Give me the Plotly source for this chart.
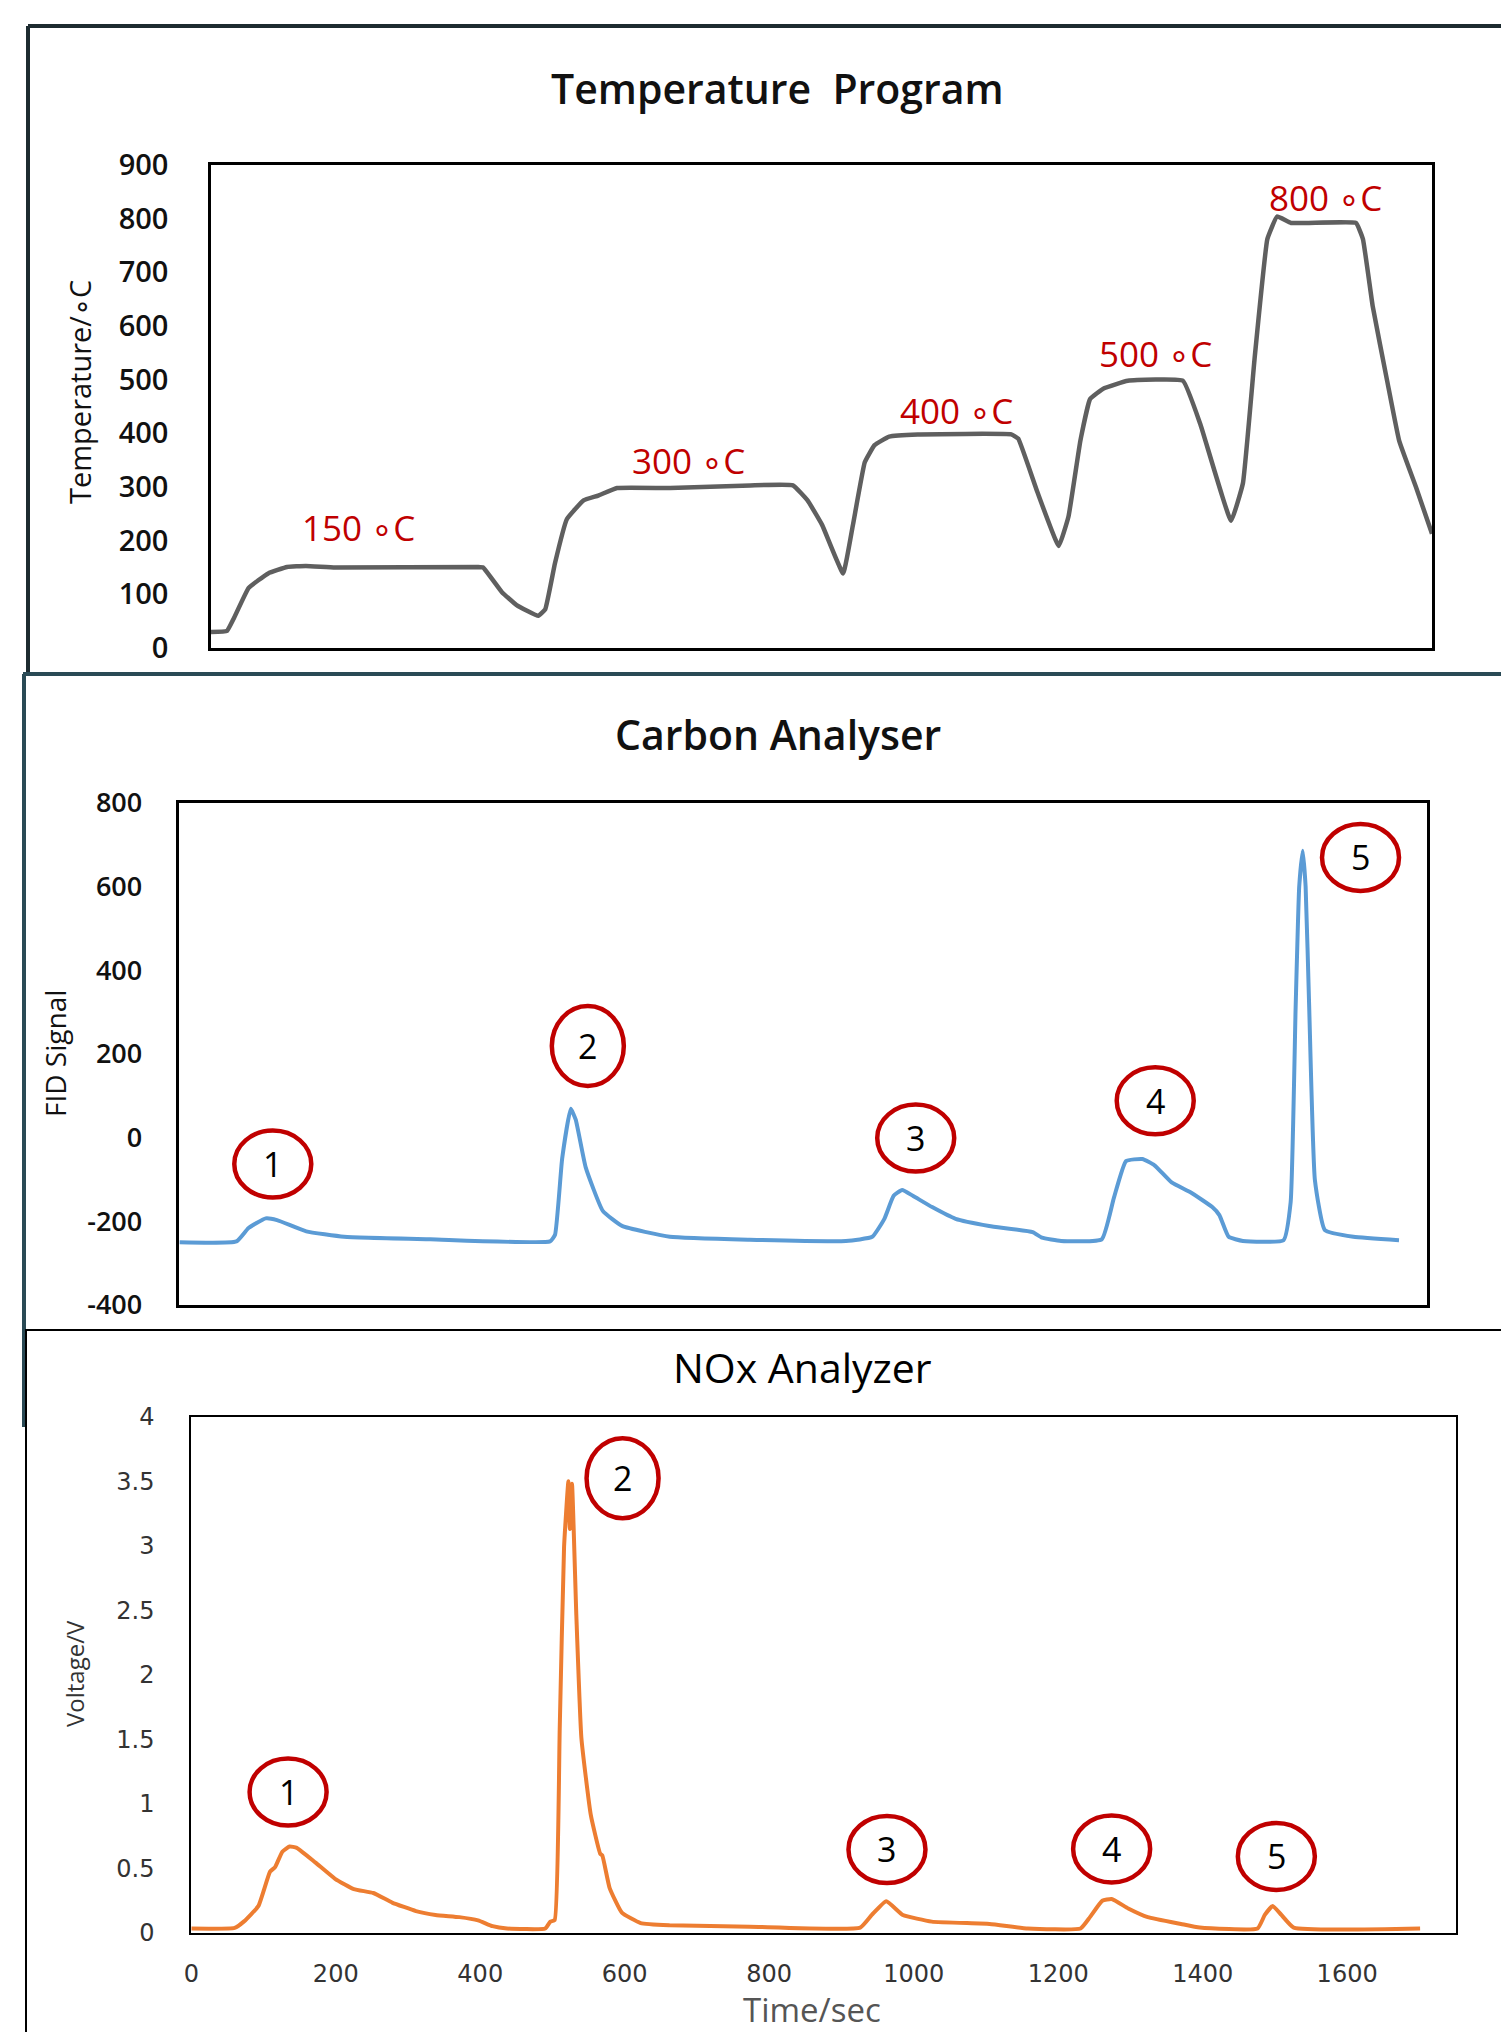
import plotly.graph_objects as go

# ---------------- data ----------------
# Temperature program (time in s, temperature in °C)
temp_time = [0, 23, 33, 54, 82, 109, 136, 178, 383, 390, 417, 438, 469, 479, 493, 510, 534, 555, 582,
             658, 773, 834, 855, 876, 906, 920, 937, 951, 972, 1013, 1147, 1157, 1184, 1215, 1229, 1246,
             1260, 1280, 1314, 1393, 1418, 1462, 1479, 1496, 1514, 1528, 1548, 1641, 1651, 1665, 1686,
             1703, 1727, 1750]
temp_vals = [30, 32, 56, 112, 139, 151, 153, 150, 151, 150, 104, 80, 60, 72, 158, 240, 275, 284, 298,
             298, 303, 303, 275, 229, 139, 229, 346, 378, 394, 398, 398, 390, 292, 190, 245, 386,
             464, 484, 498, 498, 417, 237, 307, 543, 762, 804, 792, 792, 762, 637, 496,
             386, 300, 213]
temp_labels = ["150 ∘C", "300 ∘C", "400 ∘C", "500 ∘C", "800 ∘C"]
temp_label_t = [212, 685, 1068, 1354, 1598]
temp_label_v = [225, 350, 443, 548, 840]

# Carbon analyser FID signal
fid_time = [0, 80, 97, 121, 137, 178, 231, 352, 520, 527, 537, 549, 556, 570, 594, 621, 688, 800,
            935, 972, 989, 1002, 1014, 1029, 1056, 1089, 1136, 1197, 1210, 1237, 1294, 1311, 1328,
            1351, 1368, 1392, 1419, 1449, 1459, 1472, 1492, 1549, 1559, 1566, 1571, 1576, 1580,
            1585, 1593, 1607, 1647, 1711]
fid_vals = [-250, -248, -216, -193, -197, -224, -237, -243, -248, -232, -50, 69, 43, -71, -175, -211,
            -237, -244, -247, -237, -194, -139, -125, -139, -166, -194, -211, -226, -239, -247, -243,
            -144, -56, -51, -66, -107, -131, -166, -185, -237, -247, -245, -154, 312, 600, 686, 600,
            312, -101, -221, -237, -245]
fid_peak_t = [131, 573, 1033, 1369, 1657]
fid_peak_v = [-63, 219, -1, 88, 670]

# NOx analyzer voltage
nox_time = [0, 60, 73, 93, 109, 116, 126, 136, 146, 172, 199, 225, 252, 278, 311, 338, 371, 397, 417,
            437, 490, 497, 503, 510, 516, 522, 524, 527, 533, 540, 553, 566, 569, 579, 596, 622, 662,
            773, 926, 942, 962, 985, 1025, 1105, 1158, 1231, 1244, 1261, 1274, 1297, 1324, 1370,
            1396, 1476, 1486, 1497, 1509, 1526, 1701]
nox_vals = [0.035, 0.04, 0.09, 0.21, 0.475, 0.51, 0.63, 0.67, 0.66, 0.545, 0.42, 0.34, 0.31, 0.236,
            0.17, 0.14, 0.123, 0.098, 0.053, 0.035, 0.035, 0.088, 0.1, 1.58, 2.99, 3.5, 3.13, 3.48,
            2.46, 1.51, 0.915, 0.615, 0.6, 0.35, 0.158, 0.077, 0.06, 0.049, 0.042, 0.14, 0.246, 0.14,
            0.088, 0.07, 0.035, 0.035, 0.123, 0.25, 0.264, 0.19, 0.123, 0.07, 0.042, 0.035, 0.14,
            0.21, 0.14, 0.042, 0.035]
nox_peak_t = [134, 597, 963, 1274, 1502]
nox_peak_v = [1.092, 3.524, 0.647, 0.651, 0.593]
peak_numbers = ["1", "2", "3", "4", "5"]

temp_ticks = [0, 100, 200, 300, 400, 500, 600, 700, 800, 900]
temp_ticktext = ["0", "100", "200", "300", "400", "500", "600", "700", "800", "900"]
fid_ticks = [-400, -200, 0, 200, 400, 600, 800]
fid_ticktext = ["-400", "-200", "0", "200", "400", "600", "800"]
nox_yticks = [0, 0.5, 1, 1.5, 2, 2.5, 3, 3.5, 4]
nox_yticktext = ["0", "0.5", "1", "1.5", "2", "2.5", "3", "3.5", "4"]
nox_xticks = [0, 200, 400, 600, 800, 1000, 1200, 1400, 1600]
nox_xticktext = ["0", "200", "400", "600", "800", "1000", "1200", "1400", "1600"]

# ---------------- figure ----------------
W, H = 1501, 2032
FONT = "Open Sans"
RED = "#C00000"


def px(X):
    return X / W


def py(Y):
    return 1 - Y / H


fig = go.Figure()
fig.add_trace(go.Scatter(x=temp_time, y=temp_vals, mode="lines",
                         line=dict(color="#5f5f5f", width=4.5, shape="spline", smoothing=0.3),
                         xaxis="x", yaxis="y", showlegend=False, hoverinfo="skip"))
fig.add_trace(go.Scatter(x=fid_time, y=fid_vals, mode="lines",
                         line=dict(color="#5B9BD5", width=4, shape="spline", smoothing=0.4),
                         xaxis="x2", yaxis="y2", showlegend=False, hoverinfo="skip"))
fig.add_trace(go.Scatter(x=nox_time, y=nox_vals, mode="lines",
                         line=dict(color="#ED7D31", width=4, shape="spline", smoothing=0.4),
                         xaxis="x3", yaxis="y3", showlegend=False, hoverinfo="skip"))

box = dict(showline=True, linecolor="black", mirror=True, showgrid=False, zeroline=False,
           ticks="", automargin=False)

fig.update_layout(
    width=W, height=H, margin=dict(l=0, r=0, t=0, b=0, pad=0), autosize=False,
    paper_bgcolor="white", plot_bgcolor="white",
    font=dict(family=FONT, color="black"),
    xaxis=dict(domain=[px(211), px(1432)], range=[0, 1750], showticklabels=False,
               anchor="y", linewidth=2.5, **box),
    yaxis=dict(domain=[py(648), py(165)], range=[0, 900], tickvals=temp_ticks,
               ticktext=temp_ticktext, anchor="x", linewidth=2.5, ticklabelstandoff=34,
               tickfont=dict(size=29, color="#111", family=FONT, weight=600), **box),
    xaxis2=dict(domain=[px(179.4), px(1426.8)], range=[0, 1750], showticklabels=False,
                anchor="y2", linewidth=2.5, **box),
    yaxis2=dict(domain=[py(1305), py(803)], range=[-400, 800], tickvals=fid_ticks,
                ticktext=fid_ticktext, anchor="x2", linewidth=2.5, ticklabelstandoff=29,
                tickfont=dict(size=27, color="#111", family=FONT, weight=600), **box),
    xaxis3=dict(domain=[px(191.3), px(1455.5)], range=[0, 1750], tickvals=nox_xticks,
                ticktext=nox_xticktext, anchor="y3", linewidth=2, ticklabelstandoff=18,
                tickfont=dict(size=24, color="#333", family="DejaVu Sans"), **box),
    yaxis3=dict(domain=[py(1933), py(1416.7)], range=[0, 4], tickvals=nox_yticks,
                ticktext=nox_yticktext, anchor="x3", linewidth=2, ticklabelstandoff=30,
                tickfont=dict(size=24, color="#333", family="DejaVu Sans"), **box),
)

annotations = []


def paper_text(text, X, Y, size, color="#111", weight=None, angle=0):
    f = dict(size=size, family=FONT, color=color)
    if weight:
        f["weight"] = weight
    annotations.append(dict(text=text, x=px(X), y=py(Y), xref="paper", yref="paper",
                            xanchor="center", yanchor="middle", textangle=angle,
                            showarrow=False, font=f))


# titles
paper_text("Temperature  Program", 778, 88, 41, weight=600)
paper_text("Carbon Analyser", 778, 734, 41, weight=600)
paper_text("NOx Analyzer", 802, 1367, 41, color="black")
# axis titles
paper_text("Temperature/∘C", 79, 392, 29, weight=500, angle=-90)
paper_text("FID Signal", 55, 1054, 28, weight=500, angle=-90)
paper_text("Voltage/V", 74, 1674, 24, color="#333", angle=-90)
paper_text("Time/sec", 812, 2009, 33, color="#555")

# temperature labels
for t, v, s in zip(temp_label_t, temp_label_v, temp_labels):
    annotations.append(dict(text=s, x=t, y=v, xref="x", yref="y", showarrow=False,
                            xanchor="center", yanchor="middle",
                            font=dict(size=35, family=FONT, color=RED)))

shapes = []
# peak circles + numbers
for xr, yr, ts, vs in [("x2", "y2", fid_peak_t, fid_peak_v), ("x3", "y3", nox_peak_t, nox_peak_v)]:
    for i, (t, v) in enumerate(zip(ts, vs)):
        w, h = 77, 67
        if peak_numbers[i] == "2":
            w, h = 72, 80
        shapes.append(dict(type="circle", xref=xr, yref=yr, xsizemode="pixel", ysizemode="pixel",
                           xanchor=t, yanchor=v, x0=-w / 2, x1=w / 2, y0=-h / 2, y1=h / 2,
                           line=dict(color=RED, width=4.5)))
        annotations.append(dict(text=peak_numbers[i], x=t, y=v, xref=xr, yref=yr, showarrow=False,
                                xanchor="center", yanchor="middle",
                                font=dict(size=34, family=FONT, color="black")))

# collage panel frames
frame = "#1d2b30"
shapes.append(dict(type="line", xref="paper", yref="paper", x0=px(28), x1=1, y0=py(26), y1=py(26),
                   line=dict(color=frame, width=4)))
shapes.append(dict(type="line", xref="paper", yref="paper", x0=px(28), x1=px(28), y0=py(26), y1=py(674),
                   line=dict(color=frame, width=4)))
shapes.append(dict(type="line", xref="paper", yref="paper", x0=px(23), x1=1, y0=py(674), y1=py(674),
                   line=dict(color="#2a4a55", width=4)))
shapes.append(dict(type="line", xref="paper", yref="paper", x0=px(24), x1=px(24), y0=py(674), y1=py(1427),
                   line=dict(color="#2a4a55", width=4)))
shapes.append(dict(type="line", xref="paper", yref="paper", x0=px(25), x1=1, y0=py(1330), y1=py(1330),
                   line=dict(color="black", width=2)))
shapes.append(dict(type="line", xref="paper", yref="paper", x0=px(26), x1=px(26), y0=py(1330), y1=0,
                   line=dict(color="black", width=2)))

fig.update_layout(annotations=annotations, shapes=shapes)
fig.write_html("out.html")
